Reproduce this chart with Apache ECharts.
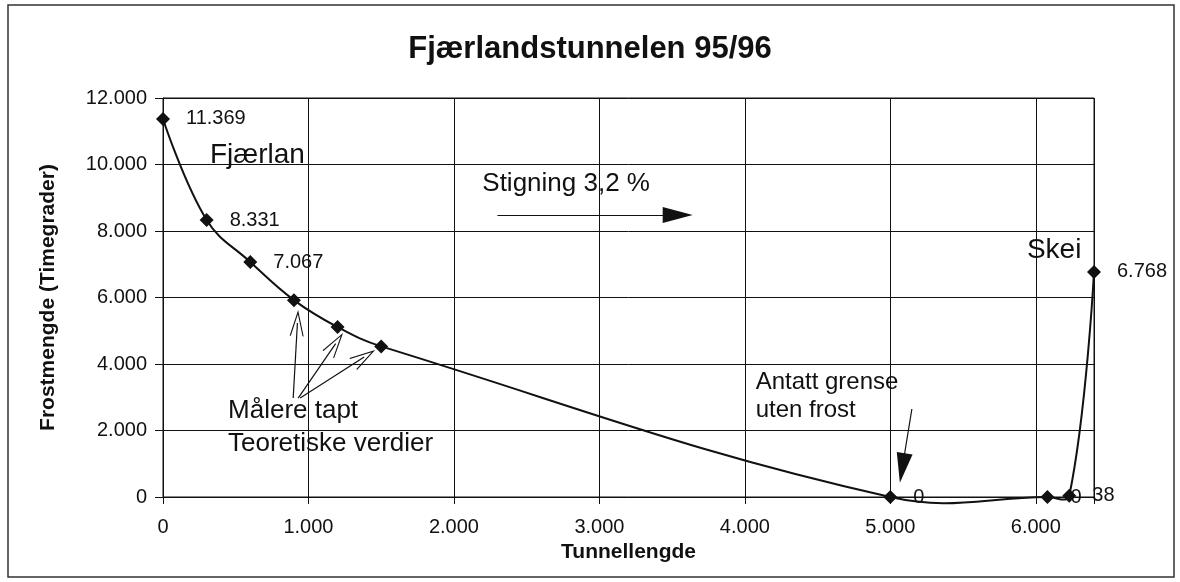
<!DOCTYPE html>
<html>
<head>
<meta charset="utf-8">
<script src="https://cdn.jsdelivr.net/npm/echarts@6/dist/echarts.min.js"></script>
<style>
html, body { margin: 0; padding: 0; background: #fff; }
#main { width: 1180px; height: 582px; }
</style>
</head>
<body>
<div id="main"></div>
<script>
// tunnel length (m) and frost amount (degree hours)
let lengths = [0, 300, 600, 900, 1200, 1500, 5000, 6080, 6230, 6400];
let frost = [11369, 8331, 7067, 5920, 5110, 4530, 0, 0, 38, 6768];
// false = meter lost, theoretical value (no label)
let measured = [true, true, true, false, false, false, true, true, true, true];

// annotations, in chart coordinates
let noteTexts = ['Fjærlan', 'Stigning 3,2 %', 'Skei', 'Antatt grense\nuten frost', 'Målere tapt\nTeoretiske verdier'];
let noteX = [323, 2195, 5939, 4074, 447];
let noteY = [10290, 9410, 7430, 3040, 2090];

let arrowFrom = [[2299, 8480], [5148, 2647], [895, 2977], [929, 2976], [943, 2976]];
let arrowTo = [[3538, 8480], [5082, 872], [924, 5233], [1187, 4613], [1383, 4211]];

let font = "'Liberation Sans', Arial, sans-serif";
let fmt = v => String(v).replace(/\B(?=(\d{3})+(?!\d))/g, '.');

let chartDom = document.getElementById('main');
let myChart = echarts.init(chartDom);

let pairs = lengths.map((x, i) => [x, frost[i]]);
let points = pairs.map((p, i) => ({ value: p, label: { show: measured[i] } }));

let noteSizes = [28, 26, 28, 24, 26];
let noteLines = [28, 28, 30, 28, 33];
let notes = noteTexts.map((t, i) => ({
    value: [noteX[i], noteY[i], t],
    label: { fontSize: noteSizes[i], lineHeight: noteLines[i] }
}));

let chevron = 'path://M5,0 L10,10 L9.2,10 L5,1.6 L0.8,10 L0,10 Z';
let arrows = arrowFrom.map((a, i) => {
    let big = i < 2;
    return [
        { coord: a, symbol: 'none' },
        { coord: arrowTo[i], symbol: big ? 'triangle' : chevron, symbolSize: big ? [16, 30] : [14, 26] }
    ];
});

// smoothed line like the spreadsheet one: one bezier piece per segment
const tension = 0.4;
function renderCurve(params, api) {
    let i = params.dataIndexInside;
    let n = params.dataInsideLength;
    if (i >= n - 1) return null;
    let P = k => api.coord([api.value(0, k), api.value(1, k)]);
    let dist = (a, b) => Math.hypot(b[0] - a[0], b[1] - a[1]);
    let p1 = P(i), p2 = P(i + 1);
    let cp1 = p1, cp2 = p2;
    if (i > 0) {
        let p0 = P(i - 1);
        let r = dist(p1, p2) / (dist(p0, p1) + dist(p1, p2));
        cp1 = [p1[0] + (p2[0] - p0[0]) * tension * r, p1[1] + (p2[1] - p0[1]) * tension * r];
    }
    if (i + 2 < n) {
        let p3 = P(i + 2);
        let r = dist(p1, p2) / (dist(p1, p2) + dist(p2, p3));
        cp2 = [p2[0] - (p3[0] - p1[0]) * tension * r, p2[1] - (p3[1] - p1[1]) * tension * r];
    }
    return {
        type: 'bezierCurve',
        shape: { x1: p1[0], y1: p1[1], x2: p2[0], y2: p2[1], cpx1: cp1[0], cpy1: cp1[1], cpx2: cp2[0], cpy2: cp2[1] },
        style: { stroke: '#111', lineWidth: 2, fill: null }
    };
}

option = {
    animation: false,
    backgroundColor: '#fff',
    textStyle: { fontFamily: font, color: '#111' },
    title: {
        text: 'Fjærlandstunnelen 95/96',
        left: 'center',
        top: 29,
        textStyle: { fontFamily: font, fontSize: 31, fontWeight: 'bold', color: '#111' }
    },
    graphic: [{
        type: 'rect',
        shape: { x: 8, y: 5, width: 1166, height: 572 },
        style: { fill: 'none', stroke: '#333', lineWidth: 1.5 }
    }],
    grid: {
        left: 163, right: 86, top: 98, bottom: 85,
        show: true, borderColor: '#111', borderWidth: 1
    },
    xAxis: {
        type: 'value',
        min: 0, max: 6400, interval: 1000,
        name: 'Tunnellengde',
        nameLocation: 'middle',
        nameGap: 40,
        nameTextStyle: { fontFamily: font, fontSize: 21, fontWeight: 'bold', color: '#111' },
        axisLine: { lineStyle: { color: '#111', width: 1 } },
        axisTick: { show: true, length: 7, lineStyle: { color: '#111' } },
        axisLabel: {
            fontFamily: font, fontSize: 20, color: '#111', margin: 20,
            formatter: v => v % 1000 === 0 ? fmt(v) : ''
        },
        splitLine: { show: true, lineStyle: { color: '#111', width: 1 } }
    },
    yAxis: {
        type: 'value',
        min: 0, max: 12000, interval: 2000,
        name: 'Frostmengde (Timegrader)',
        nameLocation: 'middle',
        nameGap: 104,
        nameTextStyle: { fontFamily: font, fontSize: 21, fontWeight: 'bold', color: '#111' },
        axisLine: { show: true, lineStyle: { color: '#111', width: 1 } },
        axisTick: { show: true, length: 8, lineStyle: { color: '#111' } },
        axisLabel: { fontFamily: font, fontSize: 20, color: '#111', margin: 16, formatter: v => fmt(v) },
        splitLine: { show: true, lineStyle: { color: '#111', width: 1 } }
    },
    series: [{
        type: 'custom',
        data: pairs,
        renderItem: renderCurve,
        clip: false,
        silent: true,
        z: 2
    }, {
        type: 'scatter',
        data: points,
        symbol: 'diamond',
        symbolSize: 14,
        itemStyle: { color: '#111', opacity: 1 },
        label: {
            show: true,
            position: 'right', distance: 16,
            fontFamily: font, fontSize: 20, color: '#111',
            formatter: p => fmt(p.value[1])
        },
        emphasis: { disabled: true },
        z: 3
    }, {
        type: 'scatter',
        data: notes,
        symbolSize: 0,
        silent: true,
        itemStyle: { opacity: 1 },
        label: {
            show: true, position: 'right', distance: 0,
            fontFamily: font, color: '#111',
            formatter: p => p.value[2]
        },
        markLine: {
            silent: true,
            animation: false,
            label: { show: false },
            lineStyle: { color: '#111', width: 1.2, type: 'solid', opacity: 1 },
            itemStyle: { color: '#111' },
            data: arrows
        },
        z: 4
    }]
};

option && myChart.setOption(option);
</script>
</body>
</html>
